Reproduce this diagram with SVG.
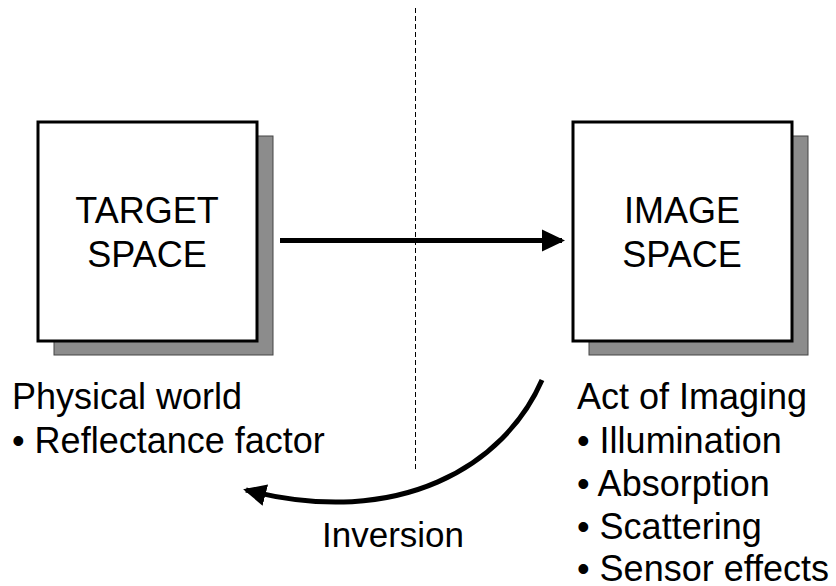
<svg xmlns="http://www.w3.org/2000/svg" width="836" height="586" viewBox="0 0 836 586">
<style>
.t{font-family:"Liberation Sans",Arial,sans-serif;font-size:36px;fill:#000}
.c{text-anchor:middle}
.box{fill:#fff;stroke:#000;stroke-width:3}
.sh{fill:#8c8c8c;stroke:#444;stroke-width:1}
.conn{fill:none;stroke:#000;stroke-width:5}
</style>
<defs>
<marker id="ah" markerUnits="userSpaceOnUse" markerWidth="24" markerHeight="24" refX="20" refY="12" orient="auto" viewBox="0 0 24 24">
<path d="M0,1 L23,12 L0,23 Z" fill="#000"/>
</marker>
</defs>
<rect width="836" height="586" fill="#fff"/>
<line x1="415.5" y1="8" x2="415.5" y2="470" stroke="#000" stroke-width="1" stroke-dasharray="5,3"/>
<g id="target">
<rect class="sh" x="54" y="136" width="219" height="219"/>
<rect class="box" x="38" y="122" width="219" height="219"/>
<text class="t c" x="147" y="223">TARGET</text>
<text class="t c" x="147" y="267">SPACE</text>
</g>
<g id="image">
<rect class="sh" x="589" y="136" width="219" height="219"/>
<rect class="box" x="573" y="122" width="219" height="219"/>
<text class="t c" x="682" y="223">IMAGE</text>
<text class="t c" x="682" y="267">SPACE</text>
</g>
<g id="connectors">
<line class="conn" x1="280" y1="240.5" x2="562" y2="240.5" marker-end="url(#ah)"/>
<path class="conn" d="M542,380 C505,465 400,530 246,490" marker-end="url(#ah)"/>
</g>
<g id="labels">
<text class="t" x="12" y="409">Physical world</text>
<text class="t" x="12" y="453">• Reflectance factor</text>
<text class="t" x="577" y="409">Act of Imaging</text>
<text class="t" x="577" y="453">• Illumination</text>
<text class="t" x="577" y="496">• Absorption</text>
<text class="t" x="577" y="539">• Scattering</text>
<text class="t" x="577" y="581">• Sensor effects</text>
<text class="t" x="322" y="547" style="font-size:35px">Inversion</text>
</g>
</svg>
